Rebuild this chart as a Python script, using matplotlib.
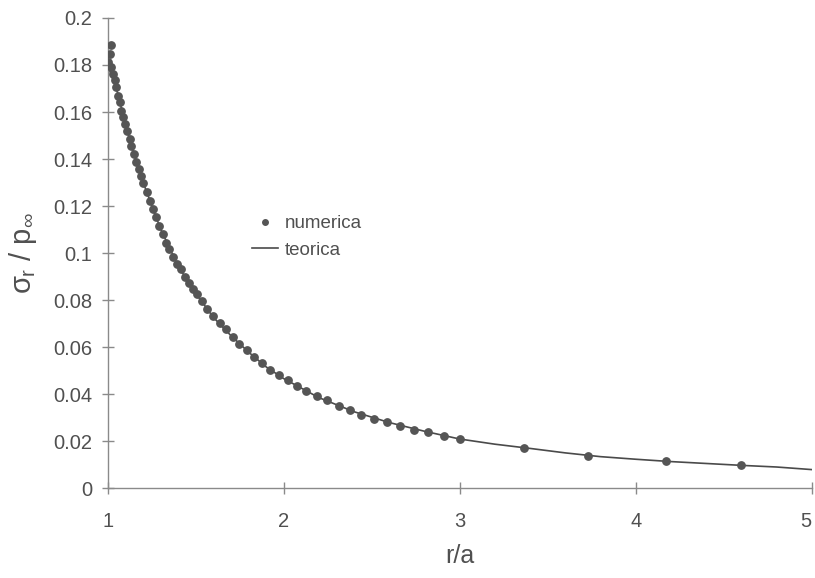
import matplotlib
matplotlib.use('Agg')
import matplotlib.pyplot as plt
from matplotlib.ticker import FuncFormatter

plt.rcParams['font.family'] = ['Liberation Sans', 'DejaVu Sans']
plt.rcParams['mathtext.fontset'] = 'custom'
plt.rcParams['mathtext.rm'] = 'Liberation Sans'
plt.rcParams['mathtext.it'] = 'Liberation Sans'

# numerical solution (dots)
r_num = [1.000, 1.002, 1.011, 1.017, 1.020, 1.030, 1.040, 1.049, 1.059, 1.068,
         1.077, 1.087, 1.100, 1.112, 1.125, 1.134, 1.150, 1.163, 1.177, 1.191,
         1.199, 1.222, 1.241, 1.260, 1.275, 1.294, 1.313, 1.332, 1.351, 1.370,
         1.393, 1.416, 1.440, 1.465, 1.487, 1.510, 1.535, 1.564, 1.598, 1.636,
         1.674, 1.712, 1.749, 1.792, 1.833, 1.877, 1.920, 1.972, 2.023, 2.076,
         2.129, 2.190, 2.247, 2.313, 2.376, 2.442, 2.513, 2.589, 2.661, 2.740,
         2.822, 2.911, 3.002, 3.365, 3.730, 4.170, 4.600]
s_num = [0.1800, 0.1812, 0.1848, 0.1886, 0.1790, 0.1763, 0.1734, 0.1706, 0.1670, 0.1642,
         0.1606, 0.1578, 0.1550, 0.1521, 0.1486, 0.1457, 0.1422, 0.1389, 0.1358, 0.1329,
         0.1298, 0.1258, 0.1223, 0.1187, 0.1152, 0.1116, 0.1081, 0.1045, 0.1017, 0.0985,
         0.0953, 0.0931, 0.0900, 0.0875, 0.0849, 0.0825, 0.0796, 0.0761, 0.0732, 0.0704,
         0.0676, 0.0643, 0.0615, 0.0587, 0.0558, 0.0531, 0.0505, 0.0480, 0.0460, 0.0434,
         0.0416, 0.0391, 0.0374, 0.0352, 0.0332, 0.0313, 0.0296, 0.0281, 0.0266, 0.0249,
         0.0238, 0.0224, 0.0210, 0.0173, 0.0137, 0.0116, 0.0098]

# theoretical curve (line)
r_teo = [1.0, 1.05, 1.1, 1.15, 1.2, 1.3, 1.4, 1.5, 1.6, 1.7, 1.8, 1.9, 2.0,
         2.2, 2.4, 2.6, 2.8, 3.0, 3.2, 3.4, 3.6, 3.8, 4.0, 4.2, 4.4, 4.6,
         4.8, 5.0]
s_teo = [0.1800, 0.1700, 0.1555, 0.1422, 0.1305, 0.1105, 0.0946, 0.0830, 0.0728,
         0.0650, 0.0580, 0.0517, 0.0467, 0.0386, 0.0326, 0.0280, 0.0243, 0.0210,
         0.0188, 0.0170, 0.0151, 0.0135, 0.0124, 0.0114, 0.0106, 0.0098, 0.0091,
         0.0080]

fig = plt.figure(figsize=(8.15, 5.78), dpi=100)
ax = fig.add_axes([0.132, 0.155, 0.864, 0.814])

ax.plot(r_teo, s_teo, color='#4a4a4a', lw=1.2, label='teorica', zorder=2)
ax.plot(r_num, s_num, 'o', color='#555555', ms=5.3, mec='#555555',
        label='numerica', zorder=3)

ax.set_xlim(1, 5)
ax.set_ylim(0, 0.2)
ax.set_xticks([1, 2, 3, 4, 5])
ax.set_yticks([0, 0.02, 0.04, 0.06, 0.08, 0.1, 0.12, 0.14, 0.16, 0.18, 0.2])
ax.yaxis.set_major_formatter(FuncFormatter(lambda v, p: '%g' % round(v, 2)))

for side in ['top', 'right']:
    ax.spines[side].set_visible(False)
for side in ['left', 'bottom']:
    ax.spines[side].set_color('#8a8a8a')
    ax.spines[side].set_linewidth(1.0)

ax.tick_params(axis='both', direction='inout', length=8, width=1.0,
               colors='#8a8a8a', labelcolor='#505050', labelsize=14.5)
ax.tick_params(axis='x', pad=13)
ax.tick_params(axis='y', pad=7)

# the "5" sits right on the image edge; keep it inside
fig.canvas.draw()
ax.get_xticklabels()[-1].set_horizontalalignment('right')

ax.set_xlabel('r/a', fontsize=18, color='#505050', labelpad=9)
ax.set_ylabel(r'$\sigma_r$ / p$_\infty$', fontsize=21, color='#505050',
              labelpad=10)

h, l = ax.get_legend_handles_labels()
ax.legend(h[::-1], l[::-1], loc='center left',
          bbox_to_anchor=(252 / 815, 1 - 237 / 578),
          bbox_transform=fig.transFigure, borderaxespad=0, borderpad=0,
          frameon=False, fontsize=13.5, handlelength=1.4, handletextpad=0.35,
          labelcolor='#505050', labelspacing=0.5, markerscale=0.75)

ax.patch.set_alpha(0)
fig.patch.set_facecolor('white')
fig.savefig('out.png', dpi=100)
